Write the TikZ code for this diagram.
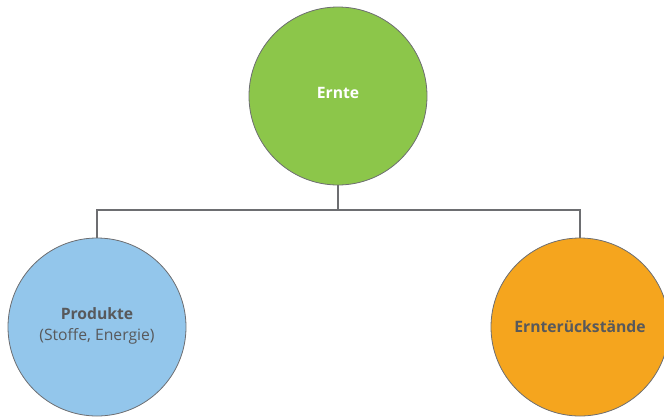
\documentclass[tikz,border=0pt]{standalone}
\usepackage{fontspec}
\setmainfont{Open Sans}
\definecolor{cgreen}{HTML}{8CC64A}
\definecolor{cblue}{HTML}{93C6EB}
\definecolor{corange}{HTML}{F5A51E}
\definecolor{cline}{HTML}{6D6E71}
\definecolor{ctext}{HTML}{58595B}
\begin{document}
\begin{tikzpicture}[x=1pt,y=-1pt,
  bubble/.style={circle,draw=cline,line width=0.8pt,minimum size=178pt,inner sep=0pt},
  lbl/.style={align=center,inner sep=0pt,font=\fontsize{15.7}{21.5}\selectfont},
  conn/.style={draw=cline,line width=2pt}]
\useasboundingbox (0,0) rectangle (664,416);
\node[bubble,fill=cgreen] (ernte) at (338,96) {};
\node[bubble,fill=cblue] (prod) at (97,327) {};
\node[bubble,fill=corange] (rest) at (580,327) {};
\node[lbl,text=white] (ernteL) at ([yshift=3pt]ernte.center) {\textbf{Ernte}};
\node[lbl,text=ctext] (prodL) at ([yshift=1pt]prod.center) {\textbf{Produkte}\\(Stoffe, Energie)};
\node[lbl,text=ctext] (restL) at (rest.center) {\textbf{Ernterückstände}};
\coordinate (j) at (338,210);
\draw[conn] (ernte.south) -- (j);
\draw[conn] (prod.north) |- (j) -| (rest.north);
\end{tikzpicture}
\end{document}
